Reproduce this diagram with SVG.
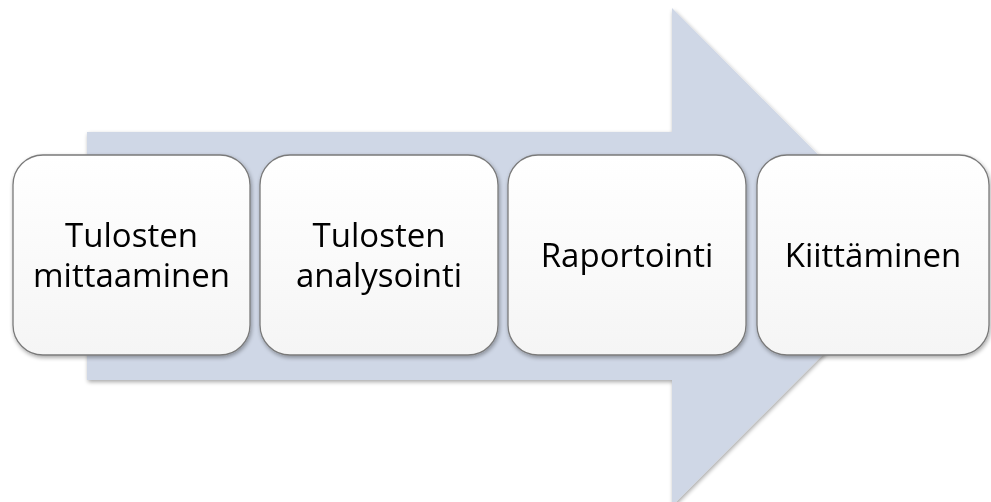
<svg xmlns="http://www.w3.org/2000/svg" width="991" height="502" viewBox="0 0 991 502">
<defs>
<linearGradient id="bg" x1="0" y1="0" x2="0" y2="1">
<stop offset="0" stop-color="#ffffff"/>
<stop offset="1" stop-color="#f5f5f5"/>
</linearGradient>
<filter id="sh" x="-10%" y="-10%" width="120%" height="125%">
<feGaussianBlur in="SourceAlpha" stdDeviation="2"/>
<feOffset dx="1" dy="2" result="b"/>
<feComponentTransfer><feFuncA type="linear" slope="0.35"/></feComponentTransfer>
<feMerge><feMergeNode/><feMergeNode in="SourceGraphic"/></feMerge>
</filter>
</defs>
<style>
.box{fill:url(#bg);stroke:#7a7a7a;stroke-width:1.3}
.t{font-family:"Open Sans","Liberation Sans",sans-serif;font-size:33px;fill:#000;text-anchor:middle}
</style>
<rect width="991" height="502" fill="#ffffff"/>
<g id="arrow" filter="url(#sh)">
<path d="M87,132 L672,132 L672,8 L920,257 L672,506 L672,380 L87,380 Z" fill="#cfd7e6"/>
</g>
<g id="n1" filter="url(#sh)">
<rect class="box" x="13" y="155" width="237" height="200" rx="30"/>
<text class="t" x="131.5" y="247">Tulosten</text>
<text class="t" x="131.5" y="287">mittaaminen</text>
</g>
<g id="n2" filter="url(#sh)">
<rect class="box" x="260" y="155" width="238" height="200" rx="30"/>
<text class="t" x="379" y="247">Tulosten</text>
<text class="t" x="379" y="287">analysointi</text>
</g>
<g id="n3" filter="url(#sh)">
<rect class="box" x="508" y="155" width="238" height="200" rx="30"/>
<text class="t" x="627" y="267">Raportointi</text>
</g>
<g id="n4" filter="url(#sh)">
<rect class="box" x="757" y="155" width="232" height="200" rx="30"/>
<text class="t" x="873" y="267">Kiittäminen</text>
</g>
<g id="connectors"></g>
</svg>
